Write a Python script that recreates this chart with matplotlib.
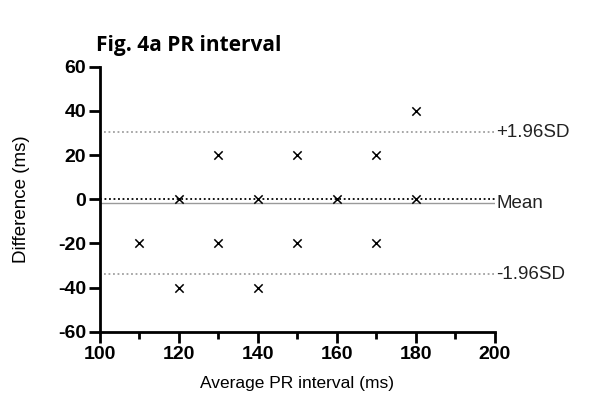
import matplotlib
matplotlib.use('Agg')
from matplotlib import pyplot as plt

# Bland-Altman data
avgPR = [110, 120, 120, 130, 130, 140, 140, 150, 150, 160, 170, 170, 180, 180]
diffPR = [-20, 0, -40, 20, -20, 0, -40, 20, -20, 0, 20, -20, 40, 0]
meanDiff = -1.8
upperLoA = 30.4
lowerLoA = -34.0
lineLabels = ["+1.96SD", "Mean", "-1.96SD"]

def main():
    plt.rcParams['font.family'] = ['Liberation Sans', 'DejaVu Sans']
    plt.rcParams['axes.unicode_minus'] = False
    fig = plt.figure(figsize=(5.91, 4.07), dpi=100)
    ax = fig.add_axes([0.1692, 0.185, 0.668, 0.651])

    ax.axhline(0, color='black', linestyle=(0, (1, 1.5)), linewidth=1.3, zorder=2)
    ax.axhline(meanDiff, color='#9a9a9a', linewidth=1.0, zorder=1)
    ax.axhline(upperLoA, xmin=0.01, color='#a0a0a0', linestyle=(0, (1, 1.5)), linewidth=1.3)
    ax.axhline(lowerLoA, xmin=0.01, color='#a0a0a0', linestyle=(0, (1, 1.5)), linewidth=1.3)

    ax.scatter(avgPR, diffPR, marker='x', color='black', s=36, linewidths=1.1, zorder=3)

    for y, lab in zip([upperLoA, meanDiff, lowerLoA], lineLabels):
        ax.text(200.4, y, lab, fontsize=13.5, va='center', ha='left', color='#222222', clip_on=False)

    ax.set_xlim(100, 200)
    ax.set_ylim(-60, 60)
    ax.set_xticks([100, 120, 140, 160, 180, 200])
    ax.set_xticks([110, 130, 150, 170, 190], minor=True)
    ax.set_yticks([-60, -40, -20, 0, 20, 40, 60])
    for s in ['top', 'right']:
        ax.spines[s].set_visible(False)
    for s in ['left', 'bottom']:
        ax.spines[s].set_linewidth(2)
    ax.tick_params(which='major', width=2, length=8, labelsize=14, pad=2)
    ax.tick_params(which='minor', width=2, length=5)
    for lbl in ax.get_xticklabels() + ax.get_yticklabels():
        lbl.set_fontweight('bold')

    ax.set_xlabel("Average PR interval (ms)", fontsize=12.5, labelpad=10)
    ax.set_ylabel("Difference (ms)", fontsize=13.5, labelpad=20)

    fig.text(0.162, 0.889, "Fig. 4a PR interval", fontsize=15, fontweight='bold',
             va='center', family=['Open Sans', 'DejaVu Sans'])

    fig.savefig('out.png', dpi=100)

if (__name__ == "__main__"):
    main()
